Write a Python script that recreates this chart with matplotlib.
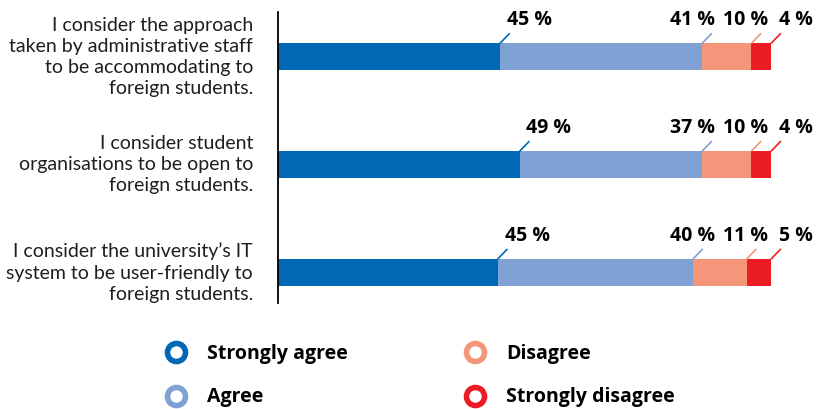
import numpy as np
import matplotlib
matplotlib.use('Agg')
from matplotlib import pyplot as plt
from matplotlib.lines import Line2D

plt.rcParams['font.family'] = ['Lato', 'DejaVu Sans']
BOLD = ['Open Sans', 'DejaVu Sans']

statements = [
  'I consider the approach\ntaken by administrative staff\nto be accommodating to\nforeign students.',
  'I consider student\norganisations to be open to\nforeign students.',
  'I consider the university\u2019s IT\nsystem to be user-friendly to\nforeign students.',
]
answers = ['Strongly agree', 'Agree', 'Disagree', 'Strongly disagree']
strongly_agree = [45, 49, 45]
agree = [41, 37, 40]
disagree = [10, 10, 11]
strongly_disagree = [4, 4, 5]
colors = ['#0068b4', '#7fa1d4', '#f5967a', '#ec1c24']

values = np.array([strongly_agree, agree, disagree, strongly_disagree])
# bars are drawn as share of the row total (rounded values may not sum to 100)
shares = values / values.sum(axis=0) * 100

fig = plt.figure(figsize=(8.17, 4.09), dpi=100)
ax = fig.add_axes([278 / 817, (409 - 303) / 409, 493 / 817, 291 / 409])

y = np.arange(len(statements))
bar_h = 0.25
left = np.zeros(len(statements))
for k in range(len(answers)):
  ax.barh(y, shares[k], left=left, height=bar_h, color=colors[k], linewidth=0)
  left = left + shares[k]

# leader lines and percentage labels
dx, dy = 2.0, 0.095
label_y = 0.34
for i in range(len(statements)):
  cum = np.cumsum(shares[:, i])
  top = y[i] - bar_h / 2
  for k in range(len(answers)):
    x0 = cum[k]
    ax.plot([x0, x0 + dx], [top, top - dy], color=colors[k], lw=1.2,
            solid_capstyle='butt', clip_on=False)
    txt = '%d %%' % values[k, i]
    if k == 0:
      tx, ha = x0 + dx - 0.6, 'left'
    elif k == 1:
      tx, ha = 88.6, 'right'
    elif k == 2:
      tx, ha = 99.4, 'right'
    else:
      tx, ha = 101.6, 'left'
    ax.text(tx, y[i] - label_y, txt, ha=ha, va='center', fontsize=14,
            family=BOLD, fontweight='bold', color='black', clip_on=False)

ax.set_xlim(0, 100)
ax.set_ylim(2 + 0.282, -0.417)
ax.set_yticks(y)
ax.set_yticklabels(statements, fontsize=14, color='#1e1e1e', ha='right',
                   va='center', multialignment='right', linespacing=1.3)
ax.tick_params(axis='y', length=0, pad=18)
ax.set_xticks([])
for s in ['top', 'right', 'bottom']:
  ax.spines[s].set_visible(False)
ax.spines['left'].set_linewidth(1.3)
ax.spines['left'].set_color('black')

handles = [Line2D([], [], ls='none', marker='o', markersize=13,
                  markerfacecolor='white', markeredgecolor=c,
                  markeredgewidth=4.0) for c in colors]
leg = fig.legend(handles, answers, ncol=2, frameon=False,
                 loc='upper left', bbox_to_anchor=(164 / 817, 1 - 344 / 409),
                 prop={'family': BOLD, 'weight': 'bold', 'size': 14},
                 handlelength=1.2, handletextpad=1.0, columnspacing=5.95,
                 labelspacing=1.2, borderpad=0, borderaxespad=0)

fig.savefig('out.png', dpi=100)
